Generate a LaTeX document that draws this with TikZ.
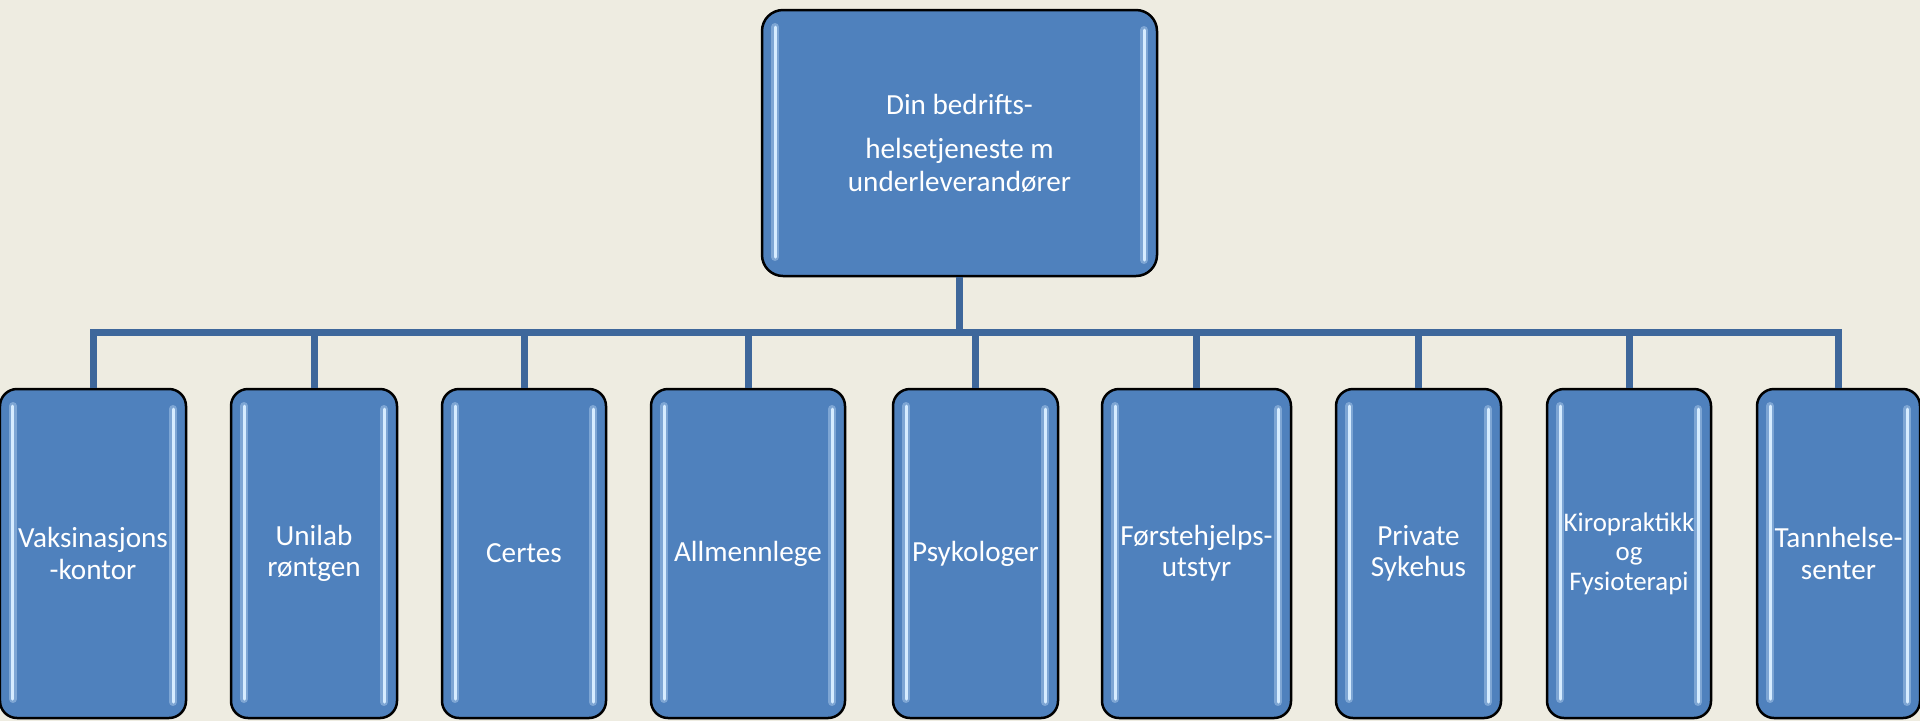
\documentclass[tikz,border=0pt]{standalone}
\usepackage{fontspec}
\setmainfont{Carlito}
\usepackage{xcolor}
\usepackage{tikz}
\usetikzlibrary{positioning}
\definecolor{pagebg}{HTML}{EEECE1}
\definecolor{boxblue}{HTML}{4F81BD}
\definecolor{linkblue}{RGB}{62,103,155}
\definecolor{shinecol}{RGB}{214,236,255}
\tikzset{
  glow/.style={draw=shinecol, line width=0.08cm, line cap=round, opacity=0.35},
  shine/.style={draw=shinecol, line width=0.03cm, line cap=round},
  gloss/.style={path picture={
      \draw[glow] ([xshift=0.13cm,yshift=-0.17cm]path picture bounding box.north west) -- ([xshift=0.13cm,yshift=0.19cm]path picture bounding box.south west);
      \draw[shine] ([xshift=0.13cm,yshift=-0.17cm]path picture bounding box.north west) -- ([xshift=0.13cm,yshift=0.19cm]path picture bounding box.south west);
      \draw[glow] ([xshift=-0.13cm,yshift=-0.2cm]path picture bounding box.north east) -- ([xshift=-0.13cm,yshift=0.16cm]path picture bounding box.south east);
      \draw[shine] ([xshift=-0.13cm,yshift=-0.2cm]path picture bounding box.north east) -- ([xshift=-0.13cm,yshift=0.16cm]path picture bounding box.south east);
  }},
  unitbox/.style={draw=black, line width=0.025cm, fill=boxblue, text=white, align=center, inner sep=0pt, gloss},
  headbox/.style={unitbox, rounded corners=0.21cm, minimum width=3.95cm, minimum height=2.66cm, font=\fontsize{8.3}{9.4}\selectfont},
  subbox/.style={unitbox, rounded corners=0.17cm, minimum height=3.29cm, font=\fontsize{8.3}{8.9}\selectfont},
  link/.style={draw=linkblue, line width=0.07cm}
}

\begin{document}
\begin{tikzpicture}
    \fill[pagebg] (0,0) rectangle (19.2,-7.21);
    \useasboundingbox (0,0) rectangle (19.2,-7.21);
    \node (bht) [headbox] at (9.595,-1.43)
    {Din bedrifts-\\[0.11cm]helsetjeneste m\\underleverandører};
    \node (vaks) [subbox,minimum width=1.86cm] at (0.93,-5.535) {Vaksinasjons\\-kontor};
    \node (unilab) [subbox,minimum width=1.66cm] at (3.14,-5.535) {Unilab\\røntgen};
    \node (certes) [subbox,minimum width=1.64cm] at (5.24,-5.535) {Certes};
    \node (allmenn) [subbox,minimum width=1.94cm] at (7.48,-5.535) {Allmennlege};
    \node (psyk) [subbox,minimum width=1.65cm] at (9.755,-5.535) {Psykologer};
    \node (forste) [subbox,minimum width=1.89cm] at (11.965,-5.535) {Førstehjelps-\\utstyr};
    \node (sykehus) [subbox,minimum width=1.65cm] at (14.185,-5.535) {Private\\Sykehus};
    \node (kiro) [subbox,minimum width=1.64cm,font=\fontsize{7.65}{8.4}\selectfont] at (16.29,-5.535)
    {Kiropraktikk\\og\\Fysioterapi};
    \node (tann) [subbox,minimum width=1.63cm] at (18.385,-5.535) {Tannhelse-\\senter};
    \coordinate[below=0.55cm of bht.south] (hub);
    \draw[link] (bht.south) -- (hub);
    \draw[link] (hub) -| (vaks.north);
    \draw[link] (hub) -| (unilab.north);
    \draw[link] (hub) -| (certes.north);
    \draw[link] (hub) -| (allmenn.north);
    \draw[link] (hub) -| (psyk.north);
    \draw[link] (hub) -| (forste.north);
    \draw[link] (hub) -| (sykehus.north);
    \draw[link] (hub) -| (kiro.north);
    \draw[link] (hub) -| (tann.north);
\end{tikzpicture}
\end{document}
